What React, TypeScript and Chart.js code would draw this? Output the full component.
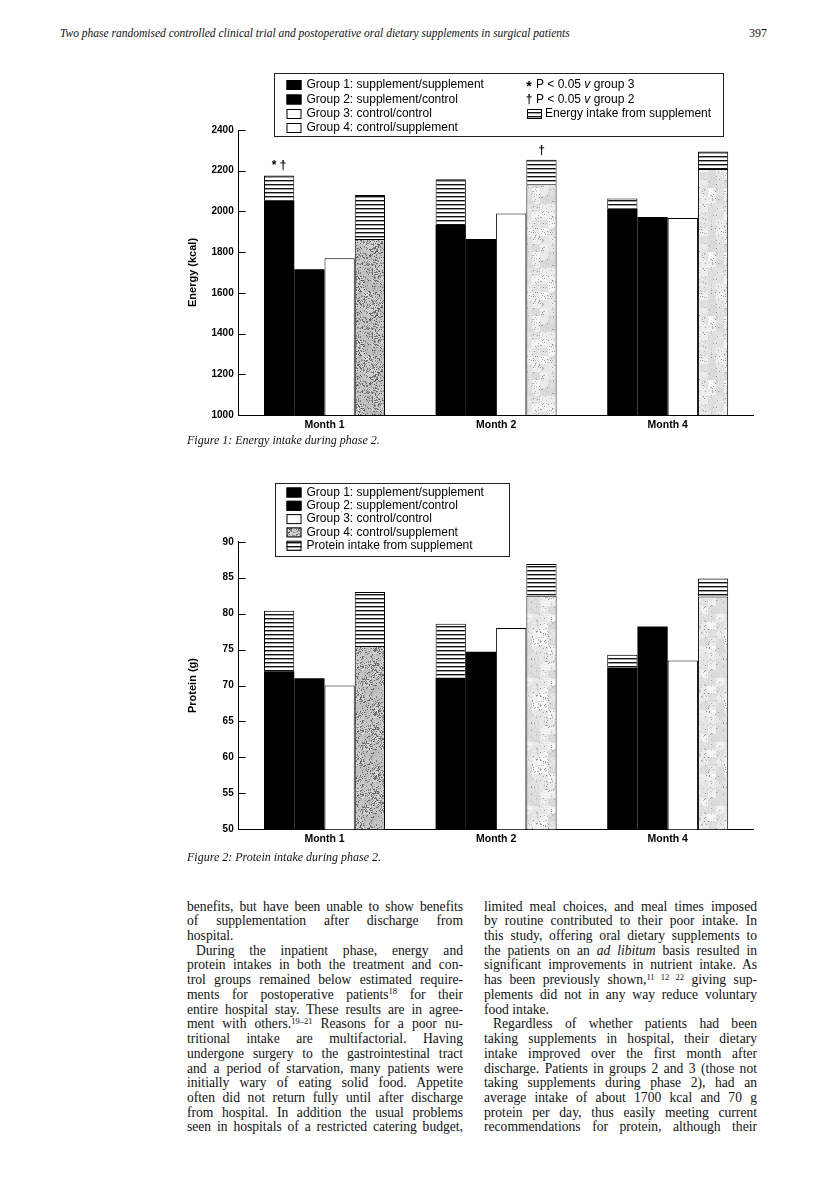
import React, { useEffect, useRef } from "react";
import { Chart, registerables } from "chart.js";
Chart.register(...registerables);

// ---------------- data ----------------
const months = ["Month 1", "Month 2", "Month 4"];

const energyTicks = [1000, 1200, 1400, 1600, 1800, 2000, 2200, 2400];
const energyG1 = [2055, 1933, 2014];
const energyG1Supp = [122, 225, 49];
const energyG2 = [1716, 1864, 1973];
const energyG3 = [1770, 1990, 1968];
const energyG4 = [1864, 2133, 2208];
const energyG4Supp = [217, 121, 86];
const energyMarksG1 = ["* \u2020", "", ""];
const energyMarksG4 = ["", "\u2020", ""];

const proteinTicks = [50, 55, 60, 65, 70, 75, 80, 85, 90];
const proteinG1 = [72.0, 71.1, 72.5];
const proteinG1Supp = [8.4, 7.5, 1.8];
const proteinG2 = [71.0, 74.7, 78.2];
const proteinG3 = [70.0, 78.0, 73.5];
const proteinG4 = [75.5, 82.5, 82.4];
const proteinG4Supp = [7.5, 4.4, 2.5];

const energyLegendLeft = [
  "Group 1: supplement/supplement",
  "Group 2: supplement/control",
  "Group 3: control/control",
  "Group 4: control/supplement",
];
const energyLegendRight = ["P < 0.05 v group 3", "P < 0.05 v group 2", "Energy intake from supplement"];
const proteinLegend = [
  "Group 1: supplement/supplement",
  "Group 2: supplement/control",
  "Group 3: control/control",
  "Group 4: control/supplement",
  "Protein intake from supplement",
];

const headerText =
  "Two phase randomised controlled clinical trial and postoperative oral dietary supplements in surgical patients";
const pageNumber = "397";
const caption1 = "Figure 1: Energy intake during phase 2.";
const caption2 = "Figure 2: Protein intake during phase 2.";

// line text, paragraph-last flag, indent flag
const column1: [string, boolean, boolean][] = [
  ["benefits, but have been unable to show benefits", false, false],
  ["of supplementation after discharge from", false, false],
  ["hospital.", true, false],
  ["During the inpatient phase, energy and", false, true],
  ["protein intakes in both the treatment and con-", false, false],
  ["trol groups remained below estimated require-", false, false],
  ["ments for postoperative patients^18^ for their", false, false],
  ["entire hospital stay. These results are in agree-", false, false],
  ["ment with others.^19\u201321^ Reasons for a poor nu-", false, false],
  ["tritional intake are multifactorial. Having", false, false],
  ["undergone surgery to the gastrointestinal tract", false, false],
  ["and a period of starvation, many patients were", false, false],
  ["initially wary of eating solid food. Appetite", false, false],
  ["often did not return fully until after discharge", false, false],
  ["from hospital. In addition the usual problems", false, false],
  ["seen in hospitals of a restricted catering budget,", false, false],
];
const column2: [string, boolean, boolean][] = [
  ["limited meal choices, and meal times imposed", false, false],
  ["by routine contributed to their poor intake. In", false, false],
  ["this study, offering oral dietary supplements to", false, false],
  ["the patients on an _ad libitum_ basis resulted in", false, false],
  ["significant improvements in nutrient intake. As", false, false],
  ["has been previously shown,^11 12 22^ giving sup-", false, false],
  ["plements did not in any way reduce voluntary", false, false],
  ["food intake.", true, false],
  ["Regardless of whether patients had been", false, true],
  ["taking supplements in hospital, their dietary", false, false],
  ["intake improved over the first month after", false, false],
  ["discharge. Patients in groups 2 and 3 (those not", false, false],
  ["taking supplements during phase 2), had an", false, false],
  ["average intake of about 1700 kcal and 70 g", false, false],
  ["protein per day, thus easily meeting current", false, false],
  ["recommendations for protein, although their", false, false],
];

// ---------------- styling helpers ----------------
const SANS = "'Liberation Sans', Arial, Helvetica, sans-serif";
const SERIF = "'Liberation Serif', 'Times New Roman', Times, serif";

function hash(x: number, y: number, s: number) {
  let h = (Math.imul(x, 374761393) + Math.imul(y, 668265263) + Math.imul(s, 1442695041)) | 0;
  h = Math.imul(h ^ (h >>> 13), 1274126177);
  h ^= h >>> 16;
  return (h >>> 0) / 4294967296;
}

function makeStipple(ctx: CanvasRenderingContext2D, base: number, dark: number, density: number, seed: number) {
  const size = 64;
  const c = document.createElement("canvas");
  c.width = size;
  c.height = size;
  const g = c.getContext("2d")!;
  const img = g.createImageData(size, size);
  for (let y = 0; y < size; y++) {
    for (let x = 0; x < size; x++) {
      const i = (y * size + x) * 4;
      const blob = hash(x >> 3, y >> 3, seed + 3);
      const r = hash(x, y, seed);
      let v = base + (blob - 0.5) * 30 + (hash(x + 5, y + 11, seed) - 0.5) * 14;
      if (r < density * (0.3 + blob * 1.4)) v = dark + hash(y, x, seed + 7) * 70;
      v = Math.max(0, Math.min(255, v));
      img.data[i] = v;
      img.data[i + 1] = v;
      img.data[i + 2] = v;
      img.data[i + 3] = 255;
    }
  }
  g.putImageData(img, 0, 0);
  return ctx.createPattern(c, "repeat")!;
}

function makeStripes(ctx: CanvasRenderingContext2D) {
  const c = document.createElement("canvas");
  c.width = 4;
  c.height = 4;
  const g = c.getContext("2d")!;
  g.fillStyle = "#fff";
  g.fillRect(0, 0, 4, 4);
  g.fillStyle = "#111";
  g.fillRect(0, 0, 4, 1.4);
  return ctx.createPattern(c, "repeat")!;
}

type Patterns = { stripes: CanvasPattern; dark: CanvasPattern; light: CanvasPattern };

function swatch(ctx: CanvasRenderingContext2D, x: number, y: number, fill: string | CanvasPattern) {
  ctx.save();
  ctx.fillStyle = fill;
  ctx.fillRect(x, y - 5, 15, 10);
  ctx.strokeStyle = "#000";
  ctx.lineWidth = 1;
  ctx.strokeRect(x + 0.5, y - 4.5, 14, 9);
  ctx.restore();
}

function drawPText(ctx: CanvasRenderingContext2D, text: string, x: number, y: number) {
  // "P < 0.05 v group N" with italic v
  const idx = text.indexOf(" v ");
  const a = text.slice(0, idx + 1);
  const b = "v";
  const c = text.slice(idx + 2);
  ctx.font = `12px ${SANS}`;
  ctx.fillText(a, x, y);
  let w = ctx.measureText(a).width;
  ctx.font = `italic 12px ${SANS}`;
  ctx.fillText(b, x + w, y);
  w += ctx.measureText(b).width;
  ctx.font = `12px ${SANS}`;
  ctx.fillText(c, x + w, y);
}

const inwardTicks = {
  id: "inwardTicks",
  afterDraw(chart: any) {
    const ctx = chart.ctx;
    const ys = chart.scales.y;
    const left = chart.chartArea.left;
    ctx.save();
    ctx.strokeStyle = "#000";
    ctx.lineWidth = 1;
    ys.ticks.forEach((t: any) => {
      const y = Math.round(ys.getPixelForValue(t.value)) + 0.5;
      ctx.beginPath();
      ctx.moveTo(left, y);
      ctx.lineTo(left + 7, y);
      ctx.stroke();
    });
    ctx.restore();
  },
};

function baseOptions(min: number, max: number, step: number, title: string, padTop: number, padBottom: number) {
  return {
    responsive: false,
    animation: false as const,
    layout: { padding: { left: 0, right: 16.5, top: padTop, bottom: padBottom } },
    plugins: { legend: { display: false }, tooltip: { enabled: false } },
    datasets: { bar: { categoryPercentage: 0.705, barPercentage: 1.0 } },
    scales: {
      x: {
        stacked: true,
        grid: { display: false, drawTicks: false },
        border: { display: true, color: "#000", width: 1 },
        ticks: { color: "#000", font: { family: SANS, size: 10.5, weight: "bold" as const }, padding: 4 },
        afterFit: (s: any) => {
          s.height = 20;
        },
      },
      y: {
        stacked: true,
        min,
        max,
        grid: { display: false, drawTicks: false },
        border: { display: true, color: "#000", width: 1 },
        ticks: {
          stepSize: step,
          autoSkip: false,
          color: "#000",
          padding: 5,
          font: { family: SANS, size: 10, weight: "bold" as const },
          callback: (v: any) => String(v),
        },
        title: {
          display: true,
          text: title,
          color: "#000",
          font: { family: SANS, size: 11, weight: "bold" as const },
          padding: { top: 6, bottom: 0 },
        },
        afterFit: (s: any) => {
          s.width = 58.7;
        },
      },
    },
  };
}

function energyConfig(ctx: CanvasRenderingContext2D) {
  const p: Patterns = {
    stripes: makeStripes(ctx),
    dark: makeStipple(ctx, 200, 80, 0.25, 11),
    light: makeStipple(ctx, 232, 140, 0.07, 29),
  };
  const marks = {
    id: "marks",
    afterDatasetsDraw(chart: any) {
      const c = chart.ctx;
      c.save();
      c.fillStyle = "#000";
      c.font = `bold 12px ${SANS}`;
      c.textAlign = "center";
      c.textBaseline = "middle";
      const m1 = chart.getDatasetMeta(1).data;
      const m5 = chart.getDatasetMeta(5).data;
      energyMarksG1.forEach((t, i) => t && c.fillText(t, m1[i].x, m1[i].y - 10));
      energyMarksG4.forEach((t, i) => t && c.fillText(t, m5[i].x, m5[i].y - 9));
      c.restore();
    },
  };
  const legend = {
    id: "legendBox",
    afterDraw(chart: any) {
      const c = chart.ctx as CanvasRenderingContext2D;
      c.save();
      c.fillStyle = "#fff";
      c.fillRect(94, 13, 449, 63);
      c.strokeStyle = "#222";
      c.lineWidth = 1;
      c.strokeRect(94.5, 13.5, 449, 63);
      const rows = [25, 39.5, 54, 68];
      const fills: (string | CanvasPattern)[] = ["#000", "#000", "#fff", "#fff"];
      c.textBaseline = "middle";
      c.textAlign = "left";
      energyLegendLeft.forEach((t, i) => {
        swatch(c, 106.5, rows[i], fills[i]);
        c.fillStyle = "#000";
        c.font = `12px ${SANS}`;
        c.fillText(t, 126.5, rows[i]);
      });
      c.fillStyle = "#000";
      c.font = `bold 14px ${SANS}`;
      c.textAlign = "center";
      c.fillText("*", 349, rows[0] + 2);
      c.font = `bold 12px ${SANS}`;
      c.fillText("\u2020", 349, rows[1]);
      c.textAlign = "left";
      drawPText(c, energyLegendRight[0], 356, rows[0]);
      drawPText(c, energyLegendRight[1], 356, rows[1]);
      swatch(c, 347, rows[2], p.stripes);
      c.fillStyle = "#000";
      c.font = `12px ${SANS}`;
      c.fillText(energyLegendRight[2], 365, rows[2]);
      c.restore();
    },
  };
  return {
    type: "bar" as const,
    data: {
      labels: months,
      datasets: [
        { label: "G1", data: energyG1, stack: "g1", backgroundColor: "#000", borderWidth: 0 },
        { label: "G1s", data: energyG1Supp, stack: "g1", backgroundColor: p.stripes, borderColor: "#000", borderWidth: 1 },
        { label: "G2", data: energyG2, stack: "g2", backgroundColor: "#000", borderWidth: 0 },
        { label: "G3", data: energyG3, stack: "g3", backgroundColor: "#fff", borderColor: "#000", borderWidth: 1 },
        { label: "G4", data: energyG4, stack: "g4", backgroundColor: [p.dark, p.light, p.light], borderColor: "#000", borderWidth: 1 },
        { label: "G4s", data: energyG4Supp, stack: "g4", backgroundColor: p.stripes, borderColor: "#000", borderWidth: 1 },
      ],
    },
    options: baseOptions(1000, 2400, 200, "Energy (kcal)", 70, 0),
    plugins: [inwardTicks, marks, legend],
  };
}

function proteinConfig(ctx: CanvasRenderingContext2D) {
  const p: Patterns = {
    stripes: makeStripes(ctx),
    dark: makeStipple(ctx, 200, 80, 0.25, 13),
    light: makeStipple(ctx, 232, 140, 0.07, 31),
  };
  const legend = {
    id: "legendBox2",
    afterDraw(chart: any) {
      const c = chart.ctx as CanvasRenderingContext2D;
      c.save();
      c.fillStyle = "#fff";
      c.fillRect(95, 13, 234, 73);
      c.strokeStyle = "#222";
      c.lineWidth = 1;
      c.strokeRect(95.5, 13.5, 234, 73);
      const rows = [22.5, 35.8, 49.1, 62.4, 75.7];
      const fills: (string | CanvasPattern)[] = ["#000", "#000", "#fff", p.dark, p.stripes];
      c.textBaseline = "middle";
      c.textAlign = "left";
      proteinLegend.forEach((t, i) => {
        swatch(c, 106.5, rows[i], fills[i]);
        c.fillStyle = "#000";
        c.font = `12px ${SANS}`;
        c.fillText(t, 126.5, rows[i]);
      });
      c.restore();
    },
  };
  return {
    type: "bar" as const,
    data: {
      labels: months,
      datasets: [
        { label: "G1", data: proteinG1, stack: "g1", backgroundColor: "#000", borderWidth: 0 },
        { label: "G1s", data: proteinG1Supp, stack: "g1", backgroundColor: p.stripes, borderColor: "#000", borderWidth: 1 },
        { label: "G2", data: proteinG2, stack: "g2", backgroundColor: "#000", borderWidth: 0 },
        { label: "G3", data: proteinG3, stack: "g3", backgroundColor: "#fff", borderColor: "#000", borderWidth: 1 },
        { label: "G4", data: proteinG4, stack: "g4", backgroundColor: [p.dark, p.light, p.light], borderColor: "#000", borderWidth: 1 },
        { label: "G4s", data: proteinG4Supp, stack: "g4", backgroundColor: p.stripes, borderColor: "#000", borderWidth: 1 },
      ],
    },
    options: baseOptions(50, 90, 5, "Protein (g)", 71.8, 0.7),
    plugins: [inwardTicks, legend],
  };
}

function ChartBox(props: { left: number; top: number; width: number; height: number; build: (ctx: CanvasRenderingContext2D) => any }) {
  const ref = useRef<HTMLCanvasElement | null>(null);
  useEffect(() => {
    const canvas = ref.current!;
    const ctx = canvas.getContext("2d")!;
    const chart = new Chart(ctx, props.build(ctx));
    return () => chart.destroy();
  }, []);
  return (
    <div style={{ position: "absolute", left: props.left, top: props.top, width: props.width, height: props.height }}>
      <canvas ref={ref} width={props.width} height={props.height} style={{ width: props.width, height: props.height, display: "block" }} />
    </div>
  );
}

function renderRich(text: string) {
  const parts = text.split(/(\^[^^]+\^|_[^_]+_)/);
  return parts.map((part, i) => {
    if (part.startsWith("^") && part.endsWith("^") && part.length > 1) {
      return (
        <span key={i} style={{ fontSize: "8.5px", position: "relative", top: "-4.5px" }}>
          {part.slice(1, -1)}
        </span>
      );
    }
    if (part.startsWith("_") && part.endsWith("_") && part.length > 1) {
      return <i key={i}>{part.slice(1, -1)}</i>;
    }
    return <React.Fragment key={i}>{part}</React.Fragment>;
  });
}

function Column(props: { lines: [string, boolean, boolean][]; left: number; width: number; top: number }) {
  const lh = 14.73;
  return (
    <>
      {props.lines.map(([t, last, indent], i) => (
        <div
          key={i}
          style={{
            position: "absolute",
            left: props.left,
            top: props.top + i * lh,
            width: props.width,
            height: lh,
            lineHeight: `${lh}px`,
            fontFamily: SERIF,
            fontSize: "13.6px",
            color: "#111",
            textAlign: "justify",
            textAlignLast: last ? "left" : "justify",
            textIndent: indent ? 9 : 0,
            overflow: "hidden",
          } as React.CSSProperties}
        >
          {renderRich(t)}
        </div>
      ))}
    </>
  );
}

export default function App() {
  return (
    <div style={{ position: "absolute", left: 0, top: 0, width: 816, height: 1192, background: "#fff", overflow: "hidden" }}>
      <div
        style={{
          position: "absolute",
          left: 60,
          top: 25,
          fontFamily: SERIF,
          fontStyle: "italic",
          fontSize: "11.5px",
          lineHeight: "16px",
          color: "#111",
          whiteSpace: "nowrap",
        }}
      >
        {headerText}
      </div>
      <div
        style={{
          position: "absolute",
          left: 717,
          width: 50,
          top: 25,
          textAlign: "right",
          fontFamily: SERIF,
          fontSize: "12px",
          lineHeight: "16px",
          color: "#111",
        }}
      >
        {pageNumber}
      </div>

      <ChartBox left={180} top={60} width={590} height={375} build={energyConfig} />
      <div
        style={{
          position: "absolute",
          left: 187,
          top: 432,
          fontFamily: SERIF,
          fontStyle: "italic",
          fontSize: "12px",
          lineHeight: "16px",
          color: "#111",
          whiteSpace: "nowrap",
        }}
      >
        {caption1}
      </div>

      <ChartBox left={180} top={470} width={590} height={380} build={proteinConfig} />
      <div
        style={{
          position: "absolute",
          left: 187,
          top: 849,
          fontFamily: SERIF,
          fontStyle: "italic",
          fontSize: "12px",
          lineHeight: "16px",
          color: "#111",
          whiteSpace: "nowrap",
        }}
      >
        {caption2}
      </div>

      <Column lines={column1} left={187} width={276} top={899.5} />
      <Column lines={column2} left={484} width={273} top={899.5} />
    </div>
  );
}
